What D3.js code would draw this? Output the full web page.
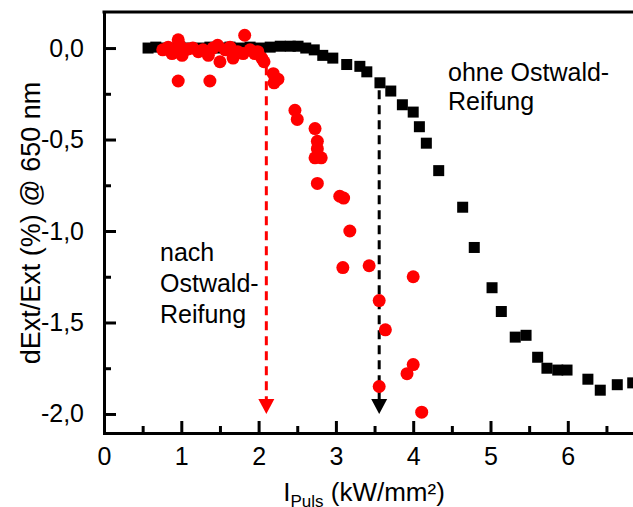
<!DOCTYPE html>
<html>
<head>
<meta charset="utf-8">
<script src="https://cdn.jsdelivr.net/npm/d3@7"></script>
<style>
body { margin: 0; background: #fff; }
text { font-family: "Liberation Sans", Arial, sans-serif; fill: #000; }
</style>
</head>
<body>
<script>
// schwarze Quadrate: ohne Ostwald-Reifung
var ohneX = [0.57, 0.67, 0.78, 0.88, 0.98, 1.11, 1.24, 1.37, 1.50, 1.63, 1.76, 1.89, 2.02, 2.15, 2.28, 2.41, 2.51, 2.61, 2.72,
    2.83, 2.96, 3.14, 3.31, 3.40, 3.57, 3.71, 3.86, 4.00, 4.08, 4.17, 4.33, 4.64, 4.79, 5.02, 5.14, 5.32, 5.46, 5.61, 5.73,
    5.87, 5.99, 6.26, 6.42, 6.64, 6.84];
var ohneY = [0.0, 0.005, 0.0, 0.0, 0.005, 0.0, 0.0, 0.005, 0.0, 0.005, 0.0, 0.005, 0.0, 0.005, 0.01, 0.01, 0.01, 0.0, -0.01,
    -0.04, -0.055, -0.09, -0.10, -0.13, -0.19, -0.235, -0.31, -0.35, -0.43, -0.52, -0.67, -0.87, -1.09, -1.31, -1.44, -1.58, -1.57, -1.69, -1.75,
    -1.76, -1.76, -1.81, -1.87, -1.84, -1.83];

// rote Kreise: nach Ostwald-Reifung
var nachX = [0.76, 0.83, 0.88, 0.96, 0.98, 1.01, 1.09, 1.15, 1.22, 1.28, 1.35, 1.41, 1.47, 1.50, 1.57, 1.63, 1.67, 1.73, 1.80,
    1.82, 1.89, 1.95, 1.99, 2.04, 2.07, 0.96, 1.37, 2.19, 2.25, 2.20,
    2.47, 2.50, 2.73, 2.76, 2.76, 2.73, 2.81, 2.76, 3.05, 3.10,
    3.18, 3.09, 3.43, 4.00, 3.56, 3.64, 4.00, 3.92, 3.56, 4.11];
var nachY = [-0.01, 0.005, -0.03, 0.045, 0.015, -0.04, -0.005, 0.0, -0.02, -0.01, -0.04, 0.0, 0.015, -0.075, -0.01, 0.005, -0.055, -0.02, -0.03,
    0.07, -0.01, -0.03, -0.02, -0.055, -0.075, -0.18, -0.18, -0.14, -0.17, -0.19,
    -0.34, -0.39, -0.44, -0.51, -0.55, -0.60, -0.60, -0.74, -0.81, -0.82,
    -1.00, -1.20, -1.19, -1.25, -1.38, -1.54, -1.73, -1.78, -1.85, -1.99];

var xTicks = [0, 1, 2, 3, 4, 5, 6];
var xMinor = [0.5, 1.5, 2.5, 3.5, 4.5, 5.5, 6.5];
var yTicks = [0, -0.5, -1, -1.5, -2];
var yMinor = [-0.25, -0.75, -1.25, -1.75];

// gestrichelte Pfeile (rot, schwarz)
var pfeilX = [2.1, 3.56];
var pfeilStart = [-0.1, -0.23];
var pfeilEnde = -2.0;
var pfeilFarbe = ["#ff0000", "#000000"];

var width = 633, height = 507;
var links = 104, oben = 12, unten = 433;

var x = d3.scaleLinear().domain([0, 7.05]).range([links, links + 7.05 * 77.3]);
var y = d3.scaleLinear().domain([-2.104, 0.197]).range([unten, oben]);

var svg = d3.select("body").append("svg")
    .attr("width", width)
    .attr("height", height);

var komma = function (d) { return d.toFixed(1).replace(".", ","); };

// Achsen
svg.append("g")
    .attr("transform", "translate(0," + unten + ")")
    .call(d3.axisBottom(x).tickValues(xTicks).tickSizeInner(-12).tickSizeOuter(0).tickPadding(14).tickFormat(d3.format("d")));
var xMin = svg.append("g")
    .attr("transform", "translate(0," + unten + ")")
    .call(d3.axisBottom(x).tickValues(xMinor).tickSizeInner(-7).tickSizeOuter(0).tickFormat(""));
xMin.select(".domain").remove();

svg.append("g")
    .attr("transform", "translate(" + links + ",0)")
    .call(d3.axisLeft(y).tickValues(yTicks).tickSizeInner(-12).tickSizeOuter(0).tickPadding(20).tickFormat(komma));
var yMin = svg.append("g")
    .attr("transform", "translate(" + links + ",0)")
    .call(d3.axisLeft(y).tickValues(yMinor).tickSizeInner(-7).tickSizeOuter(0).tickFormat(""));
yMin.select(".domain").remove();

svg.selectAll(".domain").attr("stroke", "#000").attr("stroke-width", 3).attr("stroke-linecap", "square");
svg.selectAll(".tick line").attr("stroke", "#000").attr("stroke-width", 3);
svg.selectAll(".tick text").attr("font-size", 25).attr("fill", "#000")
    .style("font-family", "'Liberation Sans', Arial, sans-serif");

// obere Rahmenlinie
svg.append("line")
    .attr("x1", x(0)).attr("x2", width + 5)
    .attr("y1", oben).attr("y2", oben)
    .attr("stroke", "#000").attr("stroke-width", 3).attr("stroke-linecap", "square");

// Pfeile
pfeilX.forEach(function (px, i) {
    var spitze = y(pfeilEnde);
    svg.append("line")
        .attr("x1", x(px)).attr("x2", x(px))
        .attr("y1", y(pfeilStart[i])).attr("y2", spitze - 15)
        .attr("stroke", pfeilFarbe[i])
        .attr("stroke-width", 3)
        .attr("stroke-dasharray", "9,6");
    svg.append("path")
        .attr("d", "M" + (x(px) - 8) + "," + (spitze - 15) + "L" + (x(px) + 8) + "," + (spitze - 15) + "L" + x(px) + "," + spitze + "Z")
        .attr("fill", pfeilFarbe[i]);
});

// Datenpunkte
svg.append("g").selectAll("rect")
    .data(ohneX)
    .enter().append("rect")
    .attr("x", function (d) { return x(d) - 5.5; })
    .attr("y", function (d, i) { return y(ohneY[i]) - 5.5; })
    .attr("width", 11)
    .attr("height", 11)
    .attr("fill", "#000");

svg.append("g").selectAll("circle")
    .data(nachX)
    .enter().append("circle")
    .attr("cx", function (d) { return x(d); })
    .attr("cy", function (d, i) { return y(nachY[i]); })
    .attr("r", 6.5)
    .attr("fill", "#ff0000");

// Beschriftungen
svg.append("text")
    .attr("transform", "translate(40,223) rotate(-90)")
    .attr("text-anchor", "middle")
    .attr("font-size", 27)
    .text("dExt/Ext (%) @ 650 nm");

var xTitel = svg.append("text")
    .attr("x", 364)
    .attr("y", 501)
    .attr("text-anchor", "middle")
    .attr("font-size", 26);
xTitel.append("tspan").text("I");
xTitel.append("tspan").attr("font-size", 17).attr("dy", 6).text("Puls");
xTitel.append("tspan").attr("dy", -6).text(" (kW/mm²)");

var ohne = svg.append("text").attr("font-size", 25);
ohne.append("tspan").attr("x", 448).attr("y", 81).text("ohne Ostwald-");
ohne.append("tspan").attr("x", 448).attr("y", 110).text("Reifung");

var nach = svg.append("text").attr("font-size", 25);
nach.append("tspan").attr("x", 160).attr("y", 261).text("nach");
nach.append("tspan").attr("x", 160).attr("y", 292).text("Ostwald-");
nach.append("tspan").attr("x", 160).attr("y", 323).text("Reifung");
</script>
</body>
</html>
